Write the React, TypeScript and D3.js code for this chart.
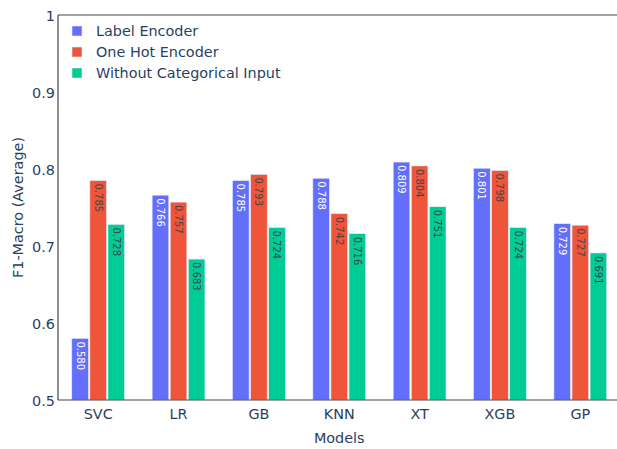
import React from "react";
import * as d3 from "d3";

const models = ["SVC", "LR", "GB", "KNN", "XT", "XGB", "GP"];
const seriesNames = ["Label Encoder", "One Hot Encoder", "Without Categorical Input"];
const labelEncoder = [0.580, 0.766, 0.785, 0.788, 0.809, 0.801, 0.729];
const oneHotEncoder = [0.785, 0.757, 0.793, 0.742, 0.804, 0.798, 0.727];
const withoutCategorical = [0.728, 0.683, 0.724, 0.716, 0.751, 0.724, 0.691];
const yTicks = [0.5, 0.6, 0.7, 0.8, 0.9, 1];

const colors = ["#636EFA", "#EF553B", "#00CC96"];
const textColors = ["#ffffff", "#444444", "#444444"];
const FONT = "'DejaVu Sans', Verdana, sans-serif";
const TXT = "#2a3f5f";

export default function App() {
  const W = 617, H = 449;
  const left = 58, right = 620.5, top = 15, bottom = 400;
  const series = [labelEncoder, oneHotEncoder, withoutCategorical];

  const x = d3.scaleBand<string>().domain(models).range([left, right]).padding(0);
  const y = d3.scaleLinear().domain([0.5, 1]).range([bottom, top]);
  const step = x.step();
  const groupW = step * 0.675;
  const slot = groupW / 3;
  const barW = slot * 0.92;

  return (
    <svg width={W} height={H} style={{ position: "absolute", left: 0, top: 0, background: "#fff" }} fontFamily={FONT}>
      <rect x={0} y={0} width={W} height={H} fill="#fff" />
      {/* bars */}
      {series.map((vals, si) =>
        vals.map((v, i) => {
          const cx = (x(models[i]) as number) + step / 2 - groupW / 2 + slot * si + slot / 2;
          const yTop = y(v);
          return (
            <g key={`${si}-${i}`}>
              <rect x={cx - barW / 2} y={yTop} width={barW} height={bottom - yTop} fill={colors[si]} stroke="#E5ECF6" strokeWidth={0.6} />
              <text
                transform={`translate(${cx},${yTop + 3}) rotate(90)`}
                fontSize={10}
                fill={textColors[si]}
                dominantBaseline="central"
                textAnchor="start"
              >
                {d3.format(".3f")(v)}
              </text>
            </g>
          );
        })
      )}
      {/* frame */}
      <line x1={left} x2={right} y1={top} y2={top} stroke="#444" strokeWidth={1.2} />
      <line x1={left} x2={right} y1={bottom} y2={bottom} stroke="#444" strokeWidth={1.2} />
      <line x1={left} x2={left} y1={top} y2={bottom} stroke="#444" strokeWidth={1.2} />
      <line x1={right} x2={right} y1={top} y2={bottom} stroke="#444" strokeWidth={1.2} />
      {/* y ticks */}
      {yTicks.map((t) => (
        <text key={t} x={left - 3} y={y(t) + 1} textAnchor="end" dominantBaseline="central" fontSize={14.4} fill={TXT}>
          {d3.format("~g")(t)}
        </text>
      ))}
      {/* x ticks */}
      {models.map((m) => (
        <text key={m} x={(x(m) as number) + step / 2} y={413.5} textAnchor="middle" dominantBaseline="central" fontSize={14.4} fill={TXT}>
          {m}
        </text>
      ))}
      {/* axis titles */}
      <text x={(left + right) / 2} y={438} textAnchor="middle" dominantBaseline="central" fontSize={14.4} fill={TXT}>
        Models
      </text>
      <text transform={`translate(18,${(top + bottom) / 2}) rotate(-90)`} textAnchor="middle" dominantBaseline="central" fontSize={14.4} fill={TXT}>
        F1-Macro (Average)
      </text>
      {/* legend */}
      {seriesNames.map((n, i) => (
        <g key={n} transform={`translate(72,${31 + i * 21})`}>
          <rect x={0} y={-5} width={10} height={10} fill={colors[i]} stroke="#E5ECF6" strokeWidth={0.6} />
          <text x={24} y={0} dominantBaseline="central" fontSize={14.4} fill={TXT}>
            {n}
          </text>
        </g>
      ))}
    </svg>
  );
}
